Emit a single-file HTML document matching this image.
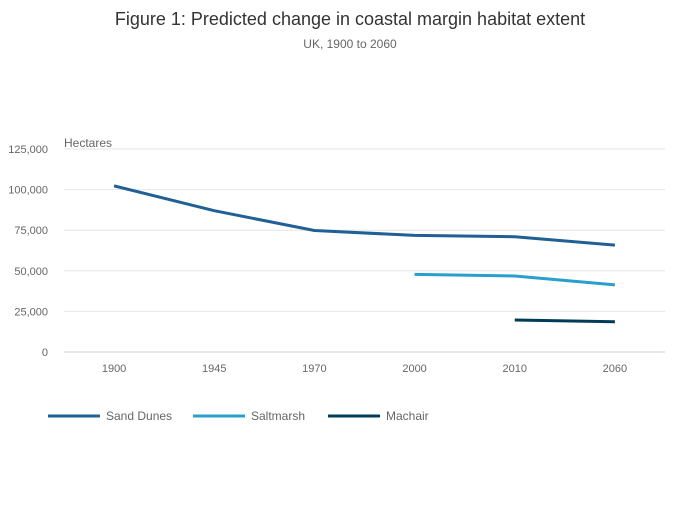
<!DOCTYPE html>
<html><head><meta charset="utf-8"><style>
body{margin:0;background:#fff;font-family:"Liberation Sans",sans-serif;}
svg text{font-family:"Liberation Sans",sans-serif;}
</style></head><body>
<svg id="chart" width="700" height="502">
<text x="350" y="25" text-anchor="middle" font-size="18" fill="#333">Figure 1: Predicted change in coastal margin habitat extent</text>
<text x="350" y="48" text-anchor="middle" font-size="12" fill="#666">UK, 1900 to 2060</text>
<text x="64" y="147" font-size="12" fill="#666">Hectares</text>
<g id="grid"></g><g id="xt"></g><g id="series"></g><g id="legend"></g>
</svg>
<script>
const categories=['1900','1945','1970','2000','2010','2060'];
const yTicks=[0,25000,50000,75000,100000,125000];
const sandDunes=[102300,87000,74800,71800,71000,65800];
const saltmarsh=[null,null,null,47800,46800,41300];
const machair=[null,null,null,null,19700,18600];
const seriesNames=['Sand Dunes','Saltmarsh','Machair'];
const seriesColors=['#206095','#27a0cc','#003c57'];
const ns='http://www.w3.org/2000/svg';
const L=64,R=665,T=149,B=352;
const x=i=>L+(R-L)/categories.length*(i+0.5);
const y=v=>B-(v/125000)*(B-T);
function mk(tag,attrs,parent){const e=document.createElementNS(ns,tag);for(const k in attrs)e.setAttribute(k,attrs[k]);parent.appendChild(e);return e;}
const grid=document.getElementById('grid');
yTicks.forEach(t=>{
  const ln=mk('line',{x1:L,x2:R,y1:y(t),y2:y(t),stroke:t===0?'#c8d3e0':'#e6e6e6','stroke-width':1},grid);
  
  
  const tx=mk('text',{x:L-16,y:y(t)+4,'text-anchor':'end','font-size':11,fill:'#666'},grid);
  tx.textContent=t.toLocaleString('en-US');
  
  
});
const xt=document.getElementById('xt');
categories.forEach((c,i)=>{
  const tx=mk('text',{x:x(i),y:B+20,'text-anchor':'middle','font-size':11,fill:'#666'},xt);
  tx.textContent=c;
  
  
});
const sg=document.getElementById('series');
[sandDunes,saltmarsh,machair].forEach((d,s)=>{
  const pts=[];d.forEach((v,i)=>{if(v!==null)pts.push(x(i)+','+y(v));});
  const p=mk('polyline',{points:pts.join(' '),fill:'none',stroke:seriesColors[s],'stroke-width':3,'stroke-linejoin':'round'},sg);
  
  
});
const lg=document.getElementById('legend');
const lx=[48,193,328];
seriesNames.forEach((n,s)=>{
  const g=mk('g',{},lg);
  
  
  mk('line',{x1:lx[s],x2:lx[s]+52,y1:416,y2:416,stroke:seriesColors[s],'stroke-width':3},g);
  const t=mk('text',{x:lx[s]+58,y:420,'font-size':12,fill:'#666'},g);
  t.textContent=n;
});
</script>
</body></html>
